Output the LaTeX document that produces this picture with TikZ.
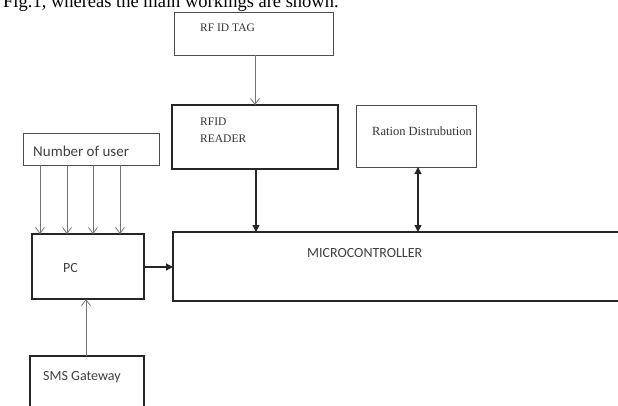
\documentclass[tikz,border=0pt]{standalone}
\usepackage{fontspec}
\setmainfont{Liberation Serif}
\newfontfamily\calib{Carlito}
\usetikzlibrary{arrows.meta}
\begin{document}
\begin{tikzpicture}[x=1pt,y=-1pt,
  boxg/.style={draw=black!70,line width=0.9pt,inner sep=0pt},
  boxk/.style={draw=black!85,line width=1.1pt,inner sep=0pt},
  thinarr/.style={draw=black!55,line width=0.8pt,-{Straight Barb[length=6pt,width=9pt,line width=0.8pt]}},
  fatarr/.style={draw=black!85,line width=1.2pt,-{Triangle[length=7pt,width=7pt]}},
  dblarr/.style={draw=black!85,line width=1.2pt,{Triangle[length=7pt,width=7pt]}-{Triangle[length=7pt,width=7pt]}},
  serift/.style={font=\fontsize{11.5}{13}\selectfont,text=black!80,anchor=west,inner sep=0pt},
  sanst/.style={font=\calib\fontsize{14}{16}\selectfont,text=black!75,anchor=west,inner sep=0pt}]
\useasboundingbox (0,0) rectangle (618,405);
\clip (0,0) rectangle (618,405);
\fill[white] (0,0) rectangle (618,405);
% caption line, cut at the top
\node[anchor=base west,inner sep=0pt,font=\fontsize{18.5}{22}\selectfont] (cap) at (3,7) {Fig.1, whereas the main workings are shown.};
% boxes
\draw[boxg] (174,12) rectangle (333,55);
\coordinate (tagS) at (255,55);
\node[serift] (tagt) at (200,28) {RF ID TAG};
\draw[boxk] (172,105) rectangle (338,169);
\coordinate (rdN) at (255,105);
\coordinate (rdS) at (256,169);
\node[serift] (rd1) at (200,122) {RFID};
\node[serift] (rd2) at (200,139) {READER};
\draw[boxg] (356,105) rectangle (476,167);
\coordinate (raS) at (418,167);
\node[serift,font=\fontsize{12.5}{14}\selectfont] (rat) at (372,131) {Ration Distrubution};
\draw[boxk] (173,232) rectangle (640,301);
\coordinate (mcN1) at (256,232);
\coordinate (mcN2) at (418,232);
\coordinate (mcW) at (173,267);
\node[sanst] (mct) at (307,253) {MICROCONTROLLER};
\draw[boxg] (23,133) rectangle (159,165);
\node[sanst,font=\calib\fontsize{15}{16}\selectfont] (nut) at (33,151) {Number of user};
\draw[boxk,line width=1.3pt] (32,234) rectangle (144,299);
\coordinate (pcE) at (144,267);
\coordinate (pcS) at (86,299);
\node[sanst] (pct) at (63,268) {PC};
\draw[boxk,line width=2pt] (30,356) rectangle (144,420);
\coordinate (smN) at (86,356);
\node[sanst] (smt) at (43,377) {SMS Gateway};
% connectors
\draw[thinarr] (tagS) -- (rdN);
\draw[fatarr] (rdS) -- (mcN1);
\draw[dblarr] (raS) -- (mcN2);
\foreach \x in {40,67,93,120} \draw[thinarr] (\x,165) -- (\x,234);
\draw[fatarr] (pcE) -- (mcW);
\draw[thinarr] (smN) -- (pcS);
\end{tikzpicture}
\end{document}
